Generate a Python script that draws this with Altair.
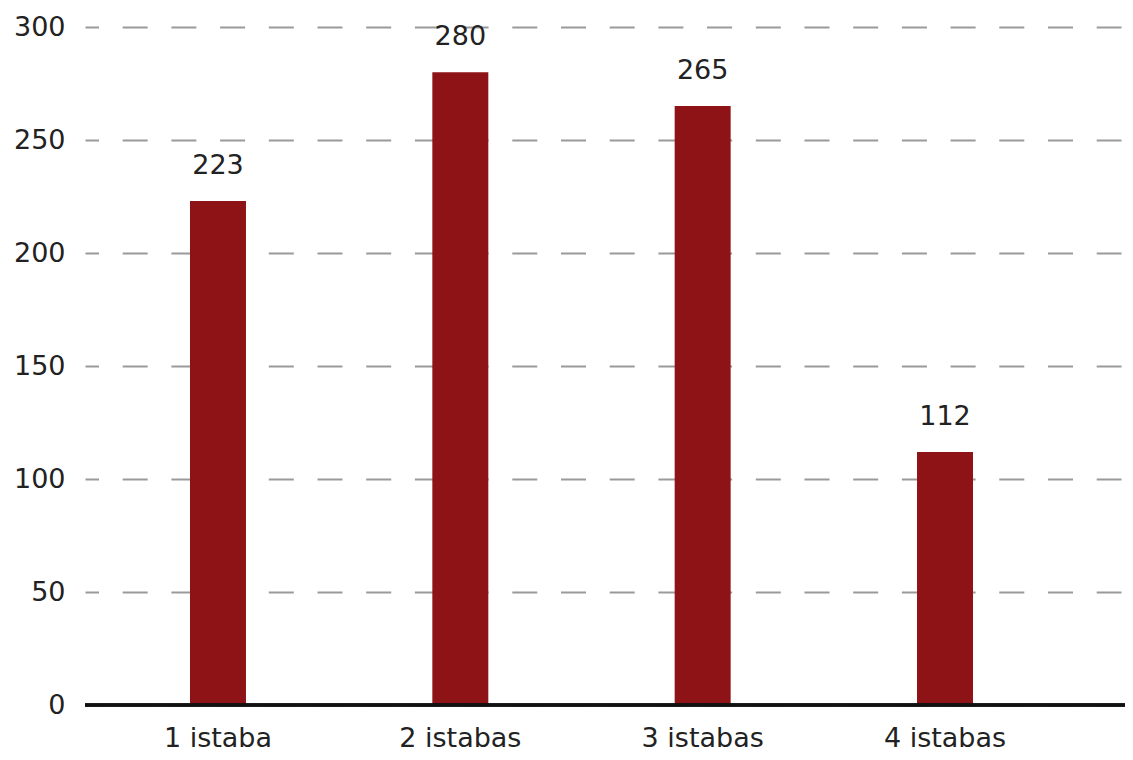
import altair as alt
import pandas as pd

categories = ["1 istaba", "2 istabas", "3 istabas", "4 istabas"]
values = [223, 280, 265, 112]
y_ticks = [0, 50, 100, 150, 200, 250, 300]

df = pd.DataFrame({"cat": categories, "val": values})

FONT = "DejaVu Sans"
FS = 27

x = alt.X("cat:N", sort=categories, title=None,
          scale=alt.Scale(paddingInner=0.769, paddingOuter=0.522, align=0.415),
          axis=alt.Axis(labelAngle=0, labelFontSize=FS, labelFont=FONT, labelColor="#222222",
                        labelBaseline="alphabetic", labelPadding=41, ticks=False,
                        domain=False, grid=False))
y = alt.Y("val:Q", title=None,
          scale=alt.Scale(domain=[0, 300], nice=False),
          axis=alt.Axis(values=y_ticks, labelFontSize=FS, labelFont=FONT,
                        labelColor="#222222", labelPadding=20, ticks=False, domain=False,
                        grid=True, gridColor="#9a9a9a", gridWidth=2, gridDash=[25, 23.7],
                        gridDashOffset=11.5))

bars = alt.Chart(df).mark_bar(color="#8e1316").encode(x=x, y=y)
labels = alt.Chart(df).mark_text(baseline="alphabetic", dy=-27, fontSize=FS, font=FONT,
                                 color="#222222").encode(x=alt.X("cat:N", sort=categories), y="val:Q",
                                                         text="val:Q")
base = alt.Chart(df).mark_rule(color="#111111", strokeWidth=3).encode(
    y=alt.datum(0), x=alt.value(0), x2=alt.value(1040))

chart = alt.layer(bars, labels, base).properties(
    width=1036, height=678,
    padding={"left": 77, "top": 19, "right": 4, "bottom": 47},
    autosize=alt.AutoSizeParams(type="none"),
    background="white",
).configure_view(strokeWidth=0)

chart.save("out.html", embed_options={"renderer": "svg", "actions": False})
